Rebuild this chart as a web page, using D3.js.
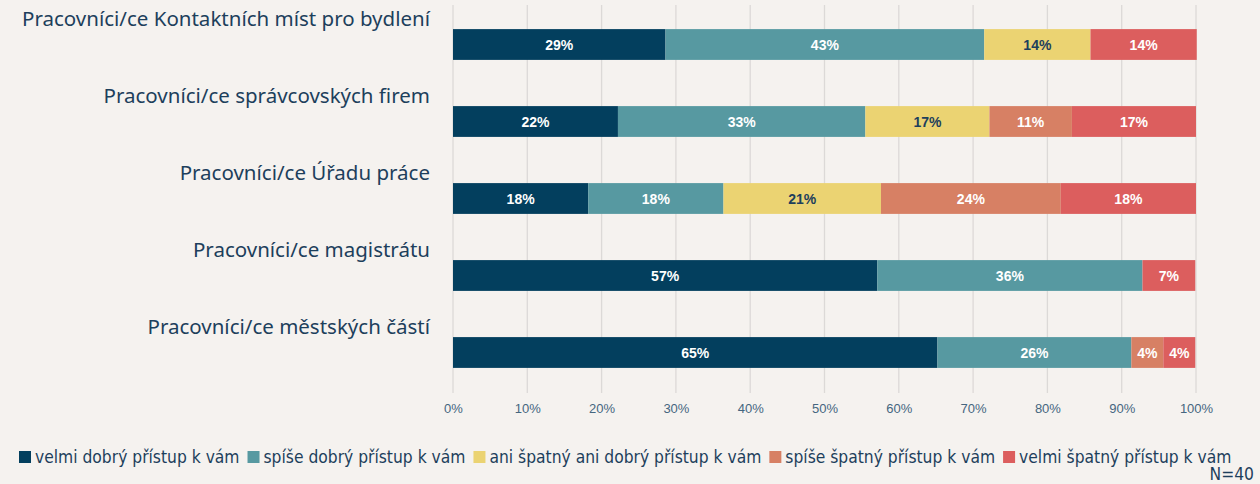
<!DOCTYPE html>
<html>
<head>
<meta charset="utf-8">
<script src="https://cdn.jsdelivr.net/npm/d3@7"></script>
<style>
  body { margin: 0; background: #f5f2ef; }
  svg { display: block; }
  .cat { font-family: "Noto Sans", sans-serif; font-size: 20.5px; fill: #1d3f5c; }
  .tick text { font-family: "Liberation Sans", Arial, sans-serif; font-size: 13px; fill: #45667f; }
  .val { font-family: "Liberation Sans", Arial, sans-serif; font-size: 14px; font-weight: bold; }
  .leg { font-family: "DejaVu Sans Condensed", "Liberation Sans Narrow", sans-serif; font-size: 17.3px; fill: #1d3f5c; }
</style>
</head>
<body>
<svg id="chart" width="1260" height="484"></svg>
<script>
var width = 1260;
var height = 484;

var categories = [
    'Pracovníci/ce Kontaktních míst pro bydlení',
    'Pracovníci/ce správcovských firem',
    'Pracovníci/ce Úřadu práce',
    'Pracovníci/ce magistrátu',
    'Pracovníci/ce městských částí'
];
var seriesNames = [
    'velmi dobrý přístup k vám',
    'spíše dobrý přístup k vám',
    'ani špatný ani dobrý přístup k vám',
    'spíše špatný přístup k vám',
    'velmi špatný přístup k vám'
];
var seriesColors = ['#033f5e', '#5799a1', '#ebd372', '#d78064', '#dc5e5e'];
var labelColors = ['#ffffff', '#ffffff', '#1d3f5c', '#ffffff', '#ffffff'];

// per category, shares in %
var veryGood = [28.6, 22.2, 18.2, 57.1, 65.2];
var ratherGood = [42.9, 33.3, 18.2, 35.7, 26.1];
var neither = [14.3, 16.7, 21.2, 0, 0];
var ratherBad = [0, 11.1, 24.2, 0, 4.3];
var veryBad = [14.3, 16.7, 18.2, 7.1, 4.3];
var shownLabels = [
    ['29%', '43%', '14%', '', '14%'],
    ['22%', '33%', '17%', '11%', '17%'],
    ['18%', '18%', '21%', '24%', '18%'],
    ['57%', '36%', '', '', '7%'],
    ['65%', '26%', '', '4%', '4%']
];
var tickValues = [0, 0.1, 0.2, 0.3, 0.4, 0.5, 0.6, 0.7, 0.8, 0.9, 1];
var footnote = 'N=40';

var seriesData = [veryGood, ratherGood, neither, ratherBad, veryBad];

var svg = d3.select('#chart');

var x = d3.scaleLinear().domain([0, 1]).range([453, 1196]);
var y = d3.scaleBand().domain(categories).range([6, 391]).paddingInner(0.6).paddingOuter(0.3);

// grid
svg.append('g')
    .selectAll('line')
    .data(tickValues)
    .join('line')
    .attr('x1', function(d) { return x(d); })
    .attr('x2', function(d) { return x(d); })
    .attr('y1', 5)
    .attr('y2', 393)
    .attr('stroke', '#dcd9d7')
    .attr('stroke-width', 1.3);

var axis = svg.append('g')
    .attr('transform', 'translate(0,393)')
    .call(d3.axisBottom(x).tickValues(tickValues).tickFormat(d3.format('.0%')).tickSize(0).tickPadding(11));
axis.select('.domain').remove();

// stacked segments
var rows = categories.map(function(c, i) {
    var start = 0;
    return seriesData.map(function(s, j) {
        var seg = { cat: c, series: j, x0: start / 100, x1: (start + s[i]) / 100, label: shownLabels[i][j] };
        start += s[i];
        return seg;
    }).filter(function(d) { return d.x1 > d.x0; });
});
var segs = [].concat.apply([], rows);

svg.append('g')
    .selectAll('rect')
    .data(segs)
    .join('rect')
    .attr('x', function(d) { return x(d.x0); })
    .attr('y', function(d) { return y(d.cat); })
    .attr('width', function(d) { return x(d.x1) - x(d.x0); })
    .attr('height', y.bandwidth())
    .attr('fill', function(d) { return seriesColors[d.series]; });

svg.append('g')
    .selectAll('text')
    .data(segs)
    .join('text')
    .classed('val', true)
    .attr('x', function(d) { return (x(d.x0) + x(d.x1)) / 2; })
    .attr('y', function(d) { return y(d.cat) + y.bandwidth() / 2; })
    .attr('dy', '0.36em')
    .attr('text-anchor', 'middle')
    .attr('fill', function(d) { return labelColors[d.series]; })
    .text(function(d) { return d.label; });

// category labels above bars
svg.append('g')
    .selectAll('text')
    .data(categories)
    .join('text')
    .classed('cat', true)
    .attr('x', 430)
    .attr('y', function(d) { return y(d) - 3; })
    .attr('text-anchor', 'end')
    .text(function(d) { return d; });

// legend
var leg = svg.append('g').attr('transform', 'translate(19,457)');
var lx = 0;
seriesNames.forEach(function(name, i) {
    leg.append('rect')
        .attr('x', lx).attr('y', -6)
        .attr('width', 12).attr('height', 12)
        .attr('fill', seriesColors[i]);
    var t = leg.append('text')
        .classed('leg', true)
        .attr('x', lx + 16)
        .attr('dy', '0.35em')
        .text(name);
    lx += 16 + t.node().getComputedTextLength() + 8;
});

svg.append('text')
    .classed('leg', true)
    .attr('x', 1254)
    .attr('y', 474)
    .attr('dy', '0.35em')
    .attr('text-anchor', 'end')
    .text(footnote);
</script>
</body>
</html>
